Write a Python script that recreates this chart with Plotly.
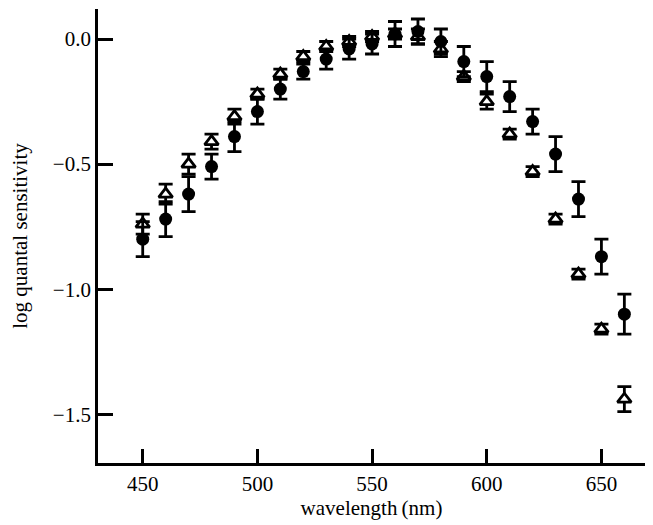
import plotly.graph_objects as go

wavelength = [450, 460, 470, 480, 490, 500, 510, 520, 530, 540, 550,
              560, 570, 580, 590, 600, 610, 620, 630, 640, 650, 660]

circle_vals = [-0.80, -0.72, -0.62, -0.51, -0.39, -0.29, -0.20, -0.13, -0.08, -0.04, -0.02,
               0.02, 0.03, -0.01, -0.09, -0.15, -0.23, -0.33, -0.46, -0.64, -0.87, -1.10]
circle_err = [0.07, 0.07, 0.07, 0.05, 0.06, 0.05, 0.04, 0.03, 0.04, 0.04, 0.04,
              0.05, 0.05, 0.05, 0.06, 0.06, 0.06, 0.05, 0.07, 0.07, 0.07, 0.08]

tri_vals = [-0.74, -0.62, -0.50, -0.41, -0.31, -0.22, -0.14, -0.07, -0.03, -0.01, 0.01,
            0.02, 0.01, -0.04, -0.15, -0.25, -0.38, -0.53, -0.72, -0.94, -1.16, -1.44]
tri_err = [0.04, 0.04, 0.04, 0.03, 0.03, 0.02, 0.02, 0.02, 0.02, 0.02, 0.02,
           0.02, 0.03, 0.03, 0.02, 0.03, 0.02, 0.02, 0.02, 0.02, 0.02, 0.05]

x_ticks = [450, 500, 550, 600, 650]
y_ticks = [0.0, -0.5, -1.0, -1.5]
y_ticklabels = ["0.0", "\u22120.5", "\u22121.0", "\u22121.5"]

fig = go.Figure()
fig.add_trace(go.Scatter(
    x=wavelength, y=tri_vals, mode="markers",
    marker=dict(symbol="triangle-up", size=12, color="white",
                line=dict(color="black", width=2.8)),
    error_y=dict(type="data", array=tri_err, color="black", thickness=2.8, width=7),
    showlegend=False,
))
fig.add_trace(go.Scatter(
    x=wavelength, y=circle_vals, mode="markers",
    marker=dict(symbol="circle", size=13, color="black", line=dict(width=0)),
    error_y=dict(type="data", array=circle_err, color="black", thickness=2.8, width=7),
    showlegend=False,
))

font_family = "Liberation Serif, Times New Roman, serif"
fig.update_layout(
    width=653, height=525,
    margin=dict(l=98, r=8, t=9, b=62),
    paper_bgcolor="white", plot_bgcolor="white",
    font=dict(family=font_family, color="black", size=21),
    xaxis=dict(
        range=[430.5, 669], tickvals=x_ticks, ticks="inside", ticklen=14, tickwidth=2.7,
        tickcolor="black", showline=True, linecolor="black", linewidth=2.7,
        showgrid=False, zeroline=False, tickfont=dict(size=21),
        title=dict(text="wavelength\u2009(nm)", font=dict(size=21), standoff=4),
    ),
    yaxis=dict(
        range=[-1.695, 0.12], tickvals=y_ticks, ticktext=y_ticklabels,
        ticks="inside", ticklen=15, tickwidth=2.7, tickcolor="black",
        showline=True, linecolor="black", linewidth=2.7,
        showgrid=False, zeroline=False, tickfont=dict(size=21),
        title=dict(text="log quantal sensitivity", font=dict(size=21), standoff=20),
    ),
)

fig.write_html("out.html")
